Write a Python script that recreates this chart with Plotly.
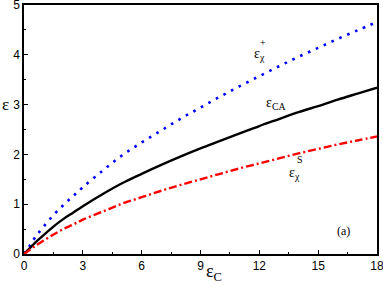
import plotly.graph_objects as go

x_vals = [0, 0.3, 0.6, 1, 1.5, 2, 2.5, 3, 4, 5, 6, 7, 8, 9, 10, 11, 12, 13, 14, 15, 16, 17, 18]
eps_chi_plus = [0, 0.17, 0.35, 0.55, 0.78, 0.98, 1.16, 1.34, 1.67, 1.98, 2.24, 2.48, 2.72, 2.94,
                3.16, 3.37, 3.57, 3.77, 3.96, 4.14, 4.32, 4.49, 4.66]
eps_ca = [0, 0.12, 0.24, 0.38, 0.55, 0.70, 0.83, 0.96, 1.20, 1.42, 1.61, 1.79, 1.96, 2.12,
          2.27, 2.42, 2.57, 2.71, 2.85, 2.97, 3.10, 3.22, 3.34]
eps_chi_s = [0, 0.085, 0.17, 0.27, 0.39, 0.50, 0.59, 0.69, 0.85, 1.01, 1.14, 1.27, 1.39, 1.50,
             1.61, 1.72, 1.82, 1.92, 2.02, 2.11, 2.20, 2.28, 2.36]

x_ticks = [0, 3, 6, 9, 12, 15, 18]
y_ticks = [0, 1, 2, 3, 4, 5]

fig = go.Figure()
fig.add_trace(go.Scatter(x=x_vals, y=eps_chi_plus, mode="lines",
                         line=dict(color="#0000FF", width=2.6, dash="2.6px,6px"),
                         line_shape="spline", showlegend=False))
fig.add_trace(go.Scatter(x=x_vals, y=eps_ca, mode="lines",
                         line=dict(color="black", width=2.4),
                         line_shape="spline", showlegend=False))
fig.add_trace(go.Scatter(x=x_vals, y=eps_chi_s, mode="lines",
                         line=dict(color="#FF0000", width=2.4, dash="8px,3px,2px,3px"),
                         line_shape="spline", showlegend=False))

serif = "Liberation Serif, Times New Roman, serif"
sans = "Liberation Sans, Arial, sans-serif"

ann = [
    dict(x=12.0, y=4.0, text="ε<sub>χ</sub>", font=dict(family=serif, size=14)),
    dict(x=12.2, y=4.25, text="+", font=dict(family=serif, size=10)),
    dict(x=12.85, y=3.03, text="ε<sub>CA</sub>", font=dict(family=serif, size=14)),
    dict(x=13.8, y=1.62, text="ε<sub>χ</sub>", font=dict(family=serif, size=14)),
    dict(x=14.05, y=1.90, text="S", font=dict(family=serif, size=10)),
    dict(x=16.27, y=0.46, text="(a)", font=dict(family=serif, size=12)),
]
for a in ann:
    fig.add_annotation(x=a["x"], y=a["y"], text=a["text"], showarrow=False,
                       xref="x", yref="y", font=dict(color="black", **a["font"]))

fig.add_annotation(x=0.538, y=-0.13, xref="paper", yref="paper", showarrow=False,
                   yanchor="bottom",
                   text="ε<sub>C</sub>", font=dict(family=serif, size=18, color="black"))
fig.add_annotation(x=-0.068, y=0.60, xref="paper", yref="paper", showarrow=False,
                   xanchor="left", text="ε", font=dict(family=serif, size=17, color="black"))

fig.update_xaxes(range=[0, 18], tickvals=x_ticks, ticktext=[str(v) for v in x_ticks],
                 ticks="inside", ticklen=4, tickwidth=1, tickcolor="black",
                 minor=dict(ticks="inside", ticklen=2, dtick=1.5, tickcolor="black"),
                 showline=True, linecolor="black", linewidth=1.5, mirror=True,
                 showgrid=False, zeroline=False, automargin=False,
                 ticklabeloverflow="allow",
                 tickfont=dict(family=sans, size=12, color="black"))
fig.update_yaxes(range=[0, 5], tickvals=y_ticks, ticktext=[str(v) for v in y_ticks],
                 ticks="inside", ticklen=4, tickwidth=1, tickcolor="black",
                 minor=dict(ticks="inside", ticklen=2, dtick=0.5, tickcolor="black"),
                 showline=True, linecolor="black", linewidth=1.5, mirror=True,
                 showgrid=False, zeroline=False, automargin=False,
                 ticklabeloverflow="allow",
                 tickfont=dict(family=sans, size=12, color="black"))

fig.update_layout(width=383, height=287, margin=dict(l=24, r=6, t=5, b=33),
                  plot_bgcolor="white", paper_bgcolor="white")

fig.write_html("out.html", config={"displayModeBar": False},
               post_script="document.body.style.margin='0';document.body.style.overflow='hidden';")
